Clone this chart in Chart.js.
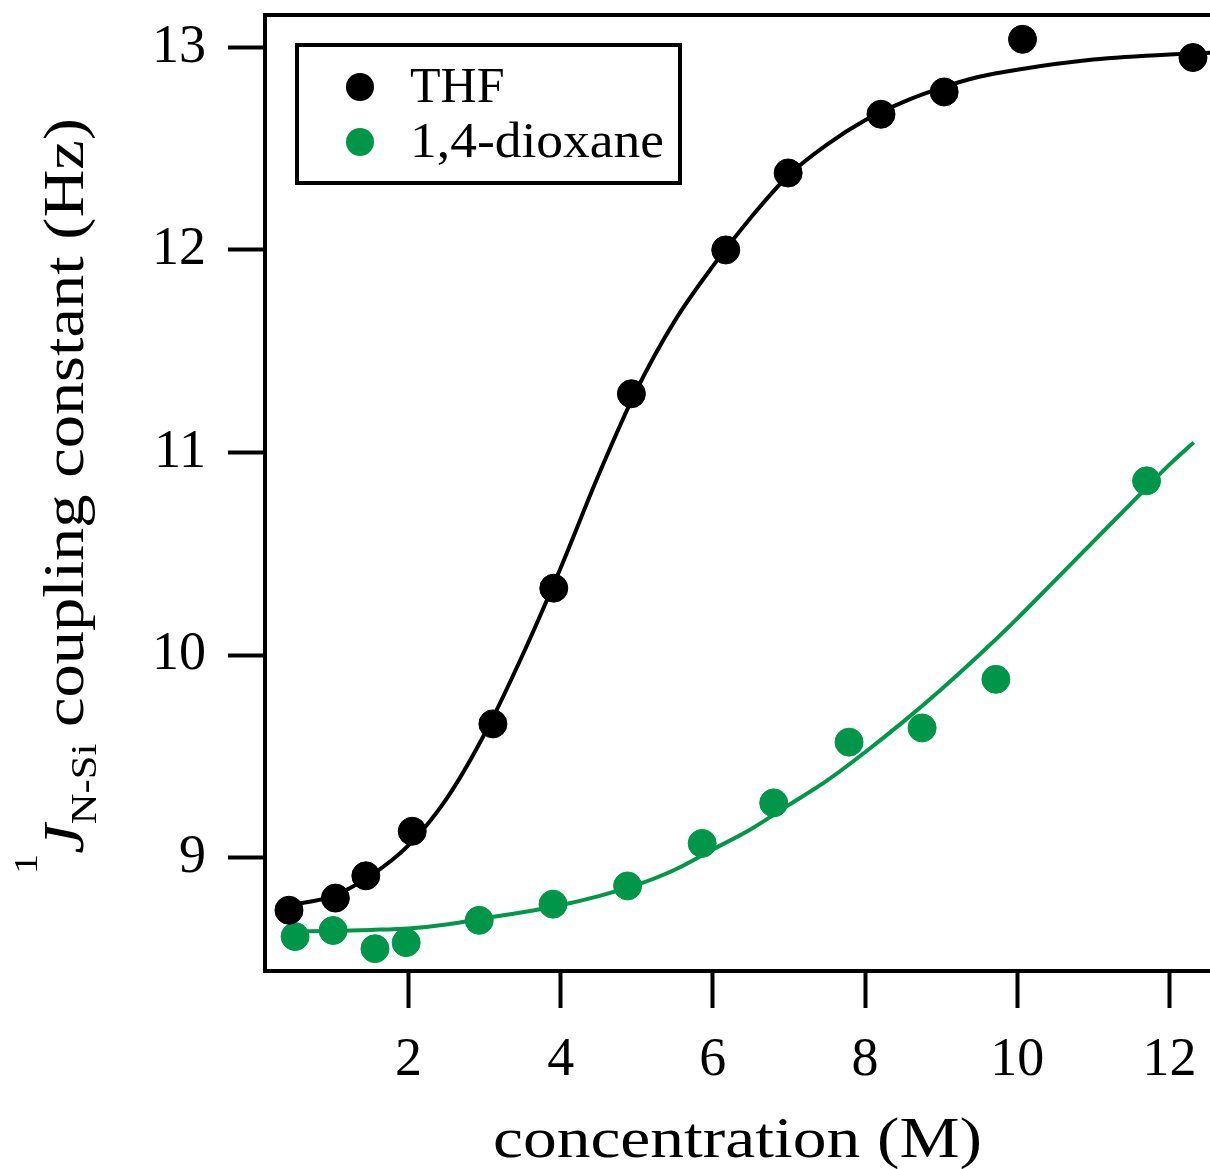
<!DOCTYPE html>
<html>
<head>
<meta charset="utf-8">
<script src="https://cdn.jsdelivr.net/npm/chart.js@4.4.1/dist/chart.umd.min.js"></script>
<style>
  html, body { margin: 0; padding: 0; background: #fff; overflow: hidden; }
  #chart { display: block; }
</style>
</head>
<body>
<canvas id="chart" width="1262" height="1169"></canvas>
<script>
// measured points
const thfConc = [0.43, 1.04, 1.44, 2.05, 3.11, 3.91, 4.93, 6.17, 6.99, 8.21, 9.04, 10.07, 12.31];
const thfJ    = [8.74, 8.80, 8.91, 9.13, 9.66, 10.33, 11.29, 12.00, 12.38, 12.67, 12.78, 13.04, 12.95];

const dioxConc = [0.51, 1.01, 1.56, 1.97, 2.93, 3.90, 4.88, 5.86, 6.80, 7.79, 8.75, 9.72, 11.70];
const dioxJ    = [8.61, 8.64, 8.55, 8.58, 8.69, 8.77, 8.86, 9.07, 9.27, 9.57, 9.64, 9.88, 10.86];

// fitted curves
const thfFitConc = [0.43, 1.0, 1.5, 2.0, 2.5, 3.0, 3.5, 4.0, 4.5, 5.0, 5.5, 6.0, 6.5, 7.0, 7.5, 8.0, 8.5, 9.0, 9.5, 10.0, 11.0, 12.0, 13.2];
const thfFitJ    = [8.765, 8.81, 8.91, 9.06, 9.29, 9.61, 10.0, 10.43, 10.89, 11.31, 11.65, 11.92, 12.16, 12.37, 12.52, 12.64, 12.73, 12.80, 12.855, 12.89, 12.94, 12.965, 12.98];

const dioxFitConc = [0.51, 1.0, 1.5, 2.0, 2.5, 3.0, 3.5, 4.0, 4.5, 5.0, 5.5, 6.0, 6.5, 7.0, 7.5, 8.0, 8.5, 9.0, 9.5, 10.0, 10.5, 11.0, 11.5, 12.0, 12.32];
const dioxFitJ    = [8.635, 8.638, 8.643, 8.65, 8.67, 8.70, 8.73, 8.765, 8.81, 8.865, 8.94, 9.04, 9.14, 9.26, 9.38, 9.52, 9.67, 9.83, 10.0, 10.18, 10.37, 10.56, 10.75, 10.94, 11.05];

const xTickValues = [2, 4, 6, 8, 10, 12];
const yTickValues = [9, 10, 11, 12, 13];

const seriesNames = ['THF', '1,4-dioxane'];
const BLACK = '#000000';
const GREEN = '#00964A';
const SERIF = '"Liberation Serif", "Times New Roman", serif';

const toXY = (xs, ys) => xs.map((x, i) => ({ x: x, y: ys[i] }));

// frame top line, legend and axis titles
const decorPlugin = {
  id: 'decor',
  afterDraw(chart) {
    const ctx = chart.ctx;
    const area = chart.chartArea;
    ctx.save();

    ctx.strokeStyle = BLACK;
    ctx.lineWidth = 4;
    ctx.beginPath();
    ctx.moveTo(area.left - 2, area.top);
    ctx.lineTo(chart.width, area.top);
    ctx.stroke();

    // legend
    ctx.lineWidth = 4;
    ctx.strokeRect(297, 45, 383, 138);
    const legendColors = [BLACK, GREEN];
    const rowsY = [87, 142];
    ctx.font = '50px ' + SERIF;
    ctx.textBaseline = 'alphabetic';
    ctx.textAlign = 'left';
    seriesNames.forEach((name, i) => {
      ctx.fillStyle = legendColors[i];
      ctx.beginPath();
      ctx.arc(360, rowsY[i], 14, 0, Math.PI * 2);
      ctx.fill();
      ctx.fillStyle = BLACK;
      ctx.save();
      ctx.translate(410, rowsY[i] + 15);
      ctx.scale(i === 0 ? 1.0 : 1.07, 1);
      ctx.fillText(name, 0, 0);
      ctx.restore();
    });

    // x title
    const xTitle = 'concentration (M)';
    ctx.font = '56px ' + SERIF;
    const xw = ctx.measureText(xTitle).width;
    const sx = 489 / xw;
    ctx.save();
    ctx.translate(737.5, 1157);
    ctx.scale(sx, 1);
    ctx.textAlign = 'center';
    ctx.fillText(xTitle, 0, 0);
    ctx.restore();

    // y title: superscript 1, italic J, subscript N-Si
    const pieces = [
      { t: '1', font: '34px ' + SERIF, dy: -46 },
      { t: 'J', font: 'italic 56px ' + SERIF, dy: 0 },
      { t: 'N-Si', font: '36px ' + SERIF, dy: 13 },
      { t: ' coupling constant (Hz)', font: '56px ' + SERIF, dy: 0 }
    ];
    let total = 0;
    pieces.forEach(p => { ctx.font = p.font; p.w = ctx.measureText(p.t).width; total += p.w; });
    const sy = (874 - 118) / total;
    ctx.save();
    ctx.translate(83, 874);
    ctx.rotate(-Math.PI / 2);
    ctx.scale(sy, 1);
    ctx.textAlign = 'left';
    let pos = 0;
    pieces.forEach(p => {
      ctx.font = p.font;
      ctx.fillText(p.t, pos, p.dy);
      pos += p.w;
    });
    ctx.restore();

    ctx.restore();
  }
};

new Chart(document.getElementById('chart'), {
  type: 'scatter',
  data: {
    datasets: [
      {
        label: seriesNames[0] + ' fit',
        data: toXY(thfFitConc, thfFitJ),
        showLine: true,
        borderColor: BLACK,
        borderWidth: 4,
        pointRadius: 0,
        cubicInterpolationMode: 'monotone',
        order: 2
      },
      {
        label: seriesNames[1] + ' fit',
        data: toXY(dioxFitConc, dioxFitJ),
        showLine: true,
        borderColor: GREEN,
        borderWidth: 4,
        pointRadius: 0,
        cubicInterpolationMode: 'monotone',
        order: 2
      },
      {
        label: seriesNames[0],
        data: toXY(thfConc, thfJ),
        backgroundColor: BLACK,
        borderColor: BLACK,
        borderWidth: 1,
        pointRadius: 14,
        order: 1
      },
      {
        label: seriesNames[1],
        data: toXY(dioxConc, dioxJ),
        backgroundColor: GREEN,
        borderColor: GREEN,
        borderWidth: 1,
        pointRadius: 14,
        order: 1
      }
    ]
  },
  options: {
    responsive: false,
    animation: false,
    layout: { padding: { top: 15, left: 0, right: 0, bottom: 0 } },
    plugins: {
      legend: { display: false },
      tooltip: { enabled: false }
    },
    scales: {
      x: {
        type: 'linear',
        min: 0.115,
        max: 13.02,
        afterBuildTicks: s => { s.ticks = xTickValues.map(v => ({ value: v })); },
        afterFit: s => { s.height = 198; s.paddingLeft = 0; s.paddingRight = 0; },
        grid: { drawOnChartArea: false, drawTicks: true, tickLength: 37, tickWidth: 4, tickColor: BLACK },
        border: { display: true, width: 4, color: BLACK },
        ticks: {
          font: { family: SERIF, size: 54 },
          color: BLACK,
          padding: 20,
          maxRotation: 0,
          autoSkip: false
        }
      },
      y: {
        type: 'linear',
        min: 8.44,
        max: 13.16,
        afterBuildTicks: s => { s.ticks = yTickValues.map(v => ({ value: v })); },
        afterFit: s => { s.width = 265; s.paddingTop = 0; s.paddingBottom = 0; },
        grid: { drawOnChartArea: false, drawTicks: true, tickLength: 37, tickWidth: 4, tickColor: BLACK },
        border: { display: true, width: 4, color: BLACK },
        ticks: {
          font: { family: SERIF, size: 54 },
          color: BLACK,
          padding: 22,
          autoSkip: false
        }
      }
    }
  },
  plugins: [decorPlugin]
});
</script>
</body>
</html>
